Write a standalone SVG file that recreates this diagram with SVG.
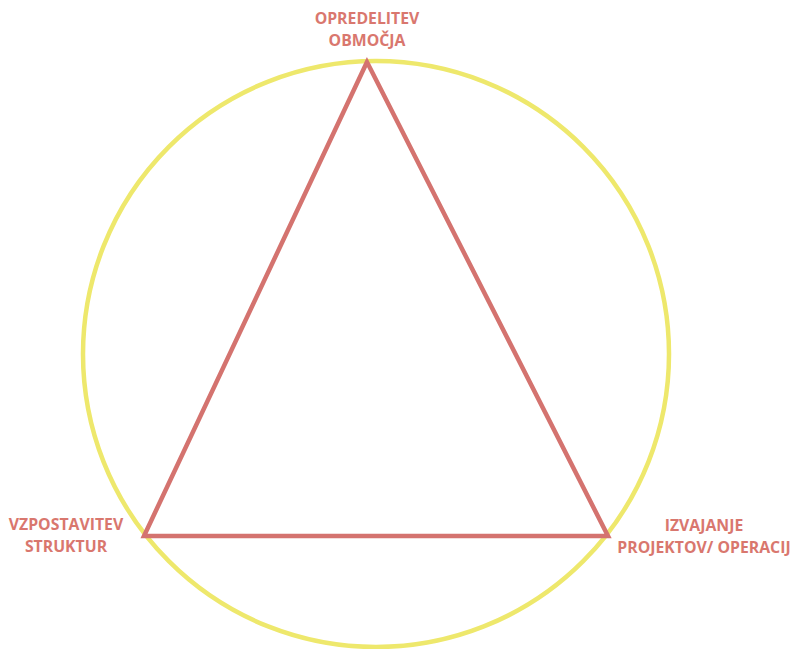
<svg xmlns="http://www.w3.org/2000/svg" width="791" height="649" viewBox="0 0 791 649">
<style>
.lbl{font-family:"Open Sans","Liberation Sans",sans-serif;font-weight:bold;font-size:15.8px;fill:#D9776E;text-anchor:middle}
</style>
<rect width="791" height="649" fill="#ffffff"/>
<g id="circle">
<circle cx="376" cy="354" r="293" fill="none" stroke="#EEE86C" stroke-width="4.5"/>
</g>
<g id="connectors">
<polygon points="367,62 144,536 608,536" fill="none" stroke="#D4736F" stroke-width="4.5" stroke-linejoin="miter"/>
</g>
<g id="node-top">
<text class="lbl" x="367" y="24">OPREDELITEV</text>
<text class="lbl" x="367" y="46">OBMOČJA</text>
</g>
<g id="node-left">
<text class="lbl" x="66" y="530">VZPOSTAVITEV</text>
<text class="lbl" x="66" y="552">STRUKTUR</text>
</g>
<g id="node-right">
<text class="lbl" x="704" y="531">IZVAJANJE</text>
<text class="lbl" x="704" y="553">PROJEKTOV/ OPERACIJ</text>
</g>
</svg>
